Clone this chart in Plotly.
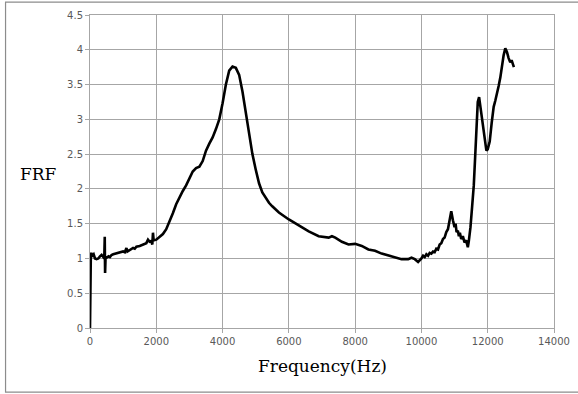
import plotly.graph_objects as go

# Frequency response function: frequency (Hz) and FRF magnitude
freq_hz = [
    0, 10, 25, 40, 70, 110, 150, 200, 250, 300, 350, 400, 430, 445, 455, 470,
    500, 560, 600, 650, 700, 800, 900, 1000, 1050, 1100, 1130, 1200, 1300, 1350,
    1400, 1500, 1600, 1700, 1750, 1800, 1850, 1880, 1900, 1920, 2000, 2100, 2200,
    2300, 2400, 2500, 2600, 2700, 2800, 2900, 3000, 3100, 3200, 3300, 3400, 3500,
    3600, 3700, 3800, 3900, 4000, 4100, 4200, 4300, 4400, 4500, 4600, 4700, 4800,
    4900, 5000, 5100, 5200, 5300, 5400, 5500, 5700, 6000, 6300, 6600, 6900, 7000,
    7200, 7300, 7400, 7600, 7800, 8000, 8200, 8400, 8600, 8800, 9000, 9200, 9400,
    9600, 9700, 9800, 9900, 10000, 10050, 10100, 10150, 10200, 10250, 10300,
    10350, 10400, 10450, 10500, 10550, 10600, 10650, 10700, 10750, 10800, 10850,
    10900, 10950, 11000, 11030, 11060, 11100, 11130, 11160, 11200, 11250, 11300,
    11350, 11400, 11430, 11480, 11530, 11580, 11620, 11660, 11700, 11740, 11780,
    11830, 11900, 11960, 12000, 12060, 12120, 12180, 12230, 12280, 12330, 12380,
    12430, 12480, 12530, 12580, 12630, 12680, 12720, 12760, 12790,
]
frf = [
    0.0, 0.7, 1.05, 1.08, 1.04, 1.06, 1.0, 0.99, 1.0, 1.03, 1.05, 1.02, 1.0, 1.31,
    0.79, 1.02, 1.01, 1.03, 1.02, 1.05, 1.06, 1.07, 1.08, 1.10, 1.09, 1.15, 1.10,
    1.12, 1.15, 1.14, 1.17, 1.18, 1.20, 1.22, 1.27, 1.24, 1.25, 1.20, 1.37, 1.26,
    1.27, 1.31, 1.35, 1.42, 1.53, 1.65, 1.78, 1.88, 1.97, 2.05, 2.14, 2.25, 2.30,
    2.32, 2.40, 2.55, 2.65, 2.74, 2.86, 3.0, 3.23, 3.50, 3.70, 3.76, 3.74, 3.64,
    3.40, 3.08, 2.80, 2.50, 2.28, 2.08, 1.95, 1.87, 1.80, 1.75, 1.66, 1.56, 1.47,
    1.39, 1.32, 1.31, 1.30, 1.32, 1.30, 1.24, 1.20, 1.21, 1.18, 1.13, 1.11, 1.07,
    1.04, 1.01, 0.99, 0.99, 1.01, 0.99, 0.95, 1.00, 1.04, 1.02, 1.06, 1.04, 1.08,
    1.07, 1.10, 1.09, 1.14, 1.13, 1.20, 1.22, 1.28, 1.30, 1.38, 1.42, 1.55, 1.68,
    1.55, 1.45, 1.50, 1.38, 1.40, 1.32, 1.37, 1.28, 1.32, 1.23, 1.26, 1.16, 1.25,
    1.45, 1.75, 2.05, 2.45, 2.95, 3.25, 3.32, 3.18, 2.95, 2.70, 2.55, 2.57, 2.68,
    2.95, 3.18, 3.27, 3.40, 3.48, 3.60, 3.80, 3.92, 4.02, 3.97, 3.88, 3.82, 3.85,
    3.78, 3.75,
]

x_ticks = [0, 2000, 4000, 6000, 8000, 10000, 12000, 14000]
y_ticks = [0, 0.5, 1, 1.5, 2, 2.5, 3, 3.5, 4, 4.5]
y_tick_text = ["0", "0.5", "1", "1.5", "2", "2.5", "3", "3.5", "4", "4.5"]

grid = "#a6a6a6"
tick_font = dict(family="DejaVu Sans", size=10, color="#595959")
title_font = dict(family="DejaVu Serif", size=17, color="#000000")

fig = go.Figure()
fig.add_trace(go.Scatter(
    x=freq_hz, y=frf, mode="lines",
    line=dict(color="#000000", width=2.6),
    hoverinfo="skip", showlegend=False,
))

fig.update_xaxes(
    range=[0, 14000], tickvals=x_ticks, ticktext=[str(v) for v in x_ticks],
    showgrid=True, gridcolor=grid, gridwidth=1,
    showline=True, linecolor=grid, linewidth=1, mirror=True,
    ticks="outside", ticklen=4, tickcolor=grid,
    tickfont=tick_font, zeroline=False, automargin=False,
)
fig.update_yaxes(
    range=[0, 4.5], tickvals=y_ticks, ticktext=y_tick_text,
    showgrid=True, gridcolor=grid, gridwidth=1,
    showline=True, linecolor=grid, linewidth=1, mirror=True,
    ticks="outside", ticklen=4, tickcolor=grid,
    tickfont=tick_font, zeroline=False, automargin=False,
)

fig.update_layout(
    width=578, height=394,
    margin=dict(l=90, r=24, t=15, b=66),
    paper_bgcolor="#ffffff", plot_bgcolor="#ffffff",
    annotations=[
        dict(text="FRF", xref="paper", yref="paper", x=-0.112, y=0.492,
             showarrow=False, font=title_font, xanchor="center", yanchor="middle"),
        dict(text="Frequency(Hz)", xref="paper", yref="paper", x=0.5, y=-0.121,
             showarrow=False, font=title_font, xanchor="center", yanchor="middle"),
    ],
    shapes=[
        # outer chart frame (right side runs past the page edge)
        dict(type="rect", xref="paper", yref="paper",
             x0=-0.182, x1=1.2, y0=-0.205, y1=1.041,
             line=dict(color="#8c8c8c", width=1.2), fillcolor="rgba(0,0,0,0)",
             layer="below"),
    ],
)

fig.write_html("out.html")
